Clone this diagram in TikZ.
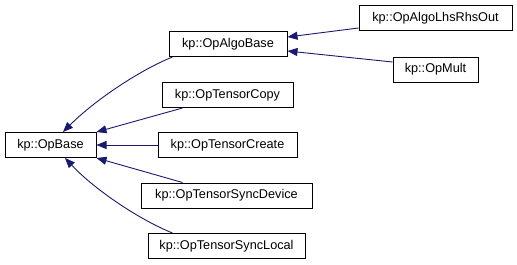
\documentclass[tikz,border=0pt]{standalone}
\usepackage{fontspec}
\setmainfont{Liberation Sans}
\usetikzlibrary{arrows.meta}
\definecolor{edgeblue}{HTML}{191970}
\begin{document}
\begin{tikzpicture}[x=1pt,y=-1pt,
  cls/.style={draw=black, fill=white, line width=1pt, minimum height=25pt,
    inner sep=0pt, font=\fontsize{12.7}{15}\selectfont},
  inherit/.style={draw=edgeblue, line width=0.9pt,
    -{Triangle[length=10pt,width=8pt]}, fill=none}]
  \useasboundingbox (0,0) rectangle (517,265);

  \node[cls, minimum width=91pt]  (base)   at (50.5,145)  {kp::OpBase};
  \node[cls, minimum width=118pt] (algo)   at (228,44)    {kp::OpAlgoBase};
  \node[cls, minimum width=153pt] (lhs)    at (435.5,18)  {kp::OpAlgoLhsRhsOut};
  \node[cls, minimum width=85pt]  (mult)   at (435.5,69.5){kp::OpMult};
  \node[cls, minimum width=131pt] (copy)   at (227.5,95)  {kp::OpTensorCopy};
  \node[cls, minimum width=139pt] (create) at (227.5,145) {kp::OpTensorCreate};
  \node[cls, minimum width=171pt] (device) at (226.5,195.5){kp::OpTensorSyncDevice};
  \node[cls, minimum width=157pt] (local)  at (226.5,246) {kp::OpTensorSyncLocal};

  % derived classes point to their base
  \draw[inherit] ([xshift=4pt]algo.south west)
    .. controls (140,70) and (95,100) .. ([xshift=12.5pt]base.north);
  \draw[inherit] ([xshift=21pt]copy.south west) -- (base.north east);
  \draw[inherit] (create.west) -- (base.east);
  \draw[inherit] ([xshift=42pt]device.north west) -- (base.south east);
  \draw[inherit] ([xshift=25pt]local.north west)
    .. controls (140,220) and (95,190) .. ([xshift=14.5pt]base.south);
  \draw[inherit] ([yshift=3pt]lhs.south west) -- ([yshift=-6pt]algo.north east);
  \draw[inherit] ([yshift=7.5pt]mult.west) -- ([yshift=6pt]algo.south east);
\end{tikzpicture}
\end{document}
